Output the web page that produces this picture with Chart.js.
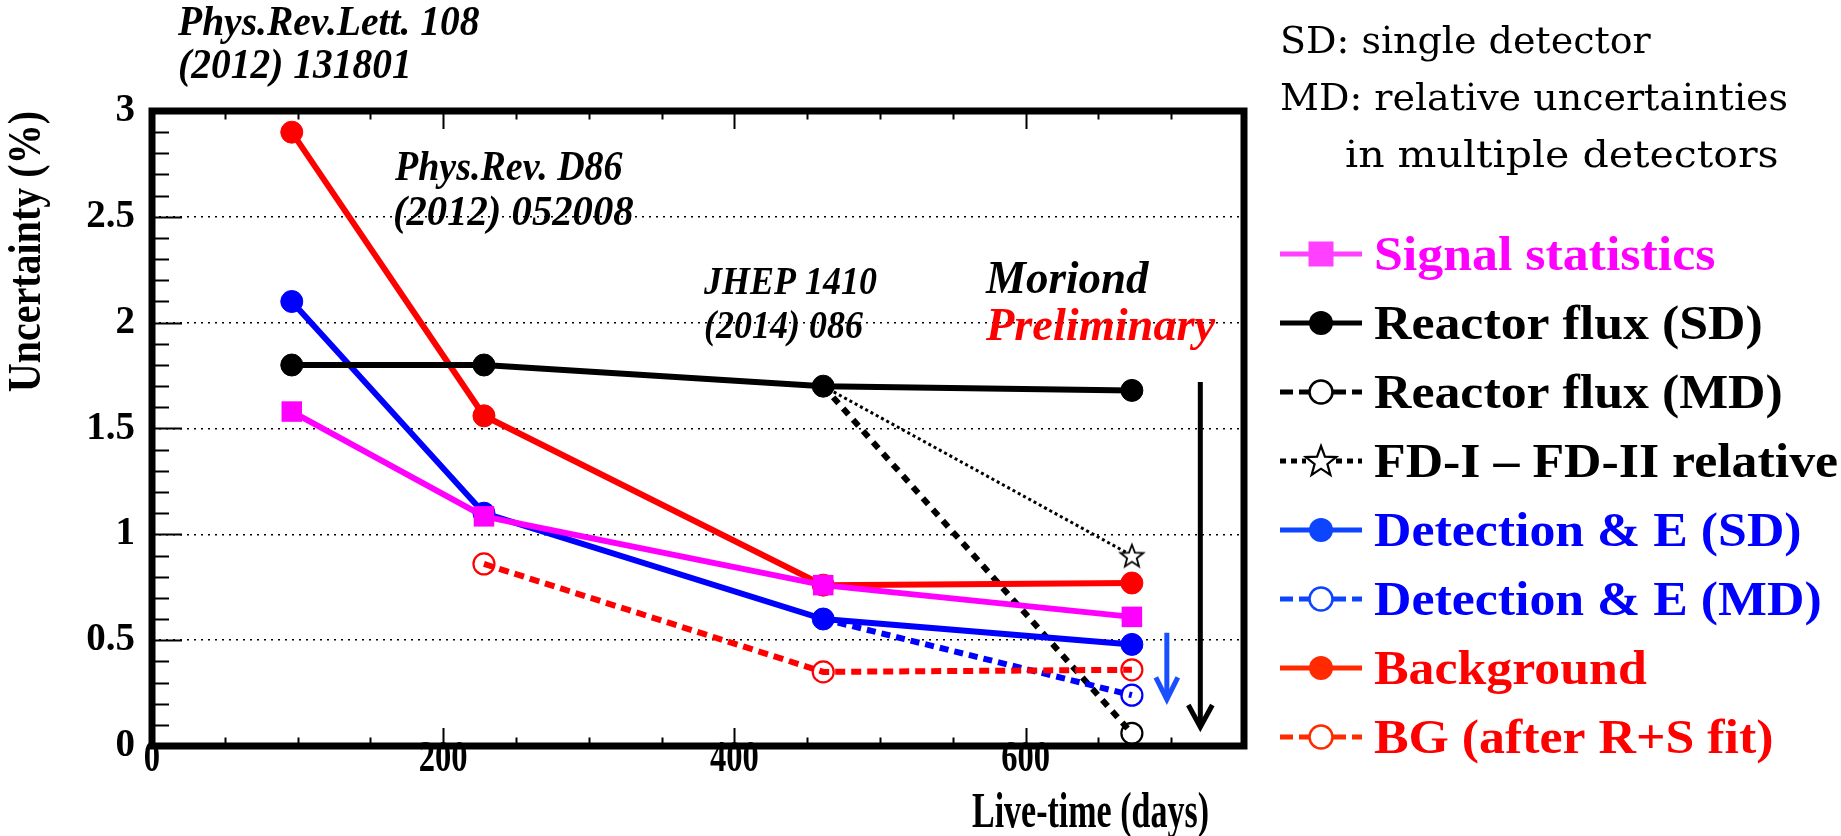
<!DOCTYPE html>
<html>
<head>
<meta charset="utf-8">
<title>Uncertainty vs live-time</title>
<script src="https://cdn.jsdelivr.net/npm/chart.js@4.4.1/dist/chart.umd.min.js"></script>
<style>
  html, body { margin: 0; padding: 0; background: #fff; }
  #wrap { width: 1841px; height: 836px; }
</style>
</head>
<body>
<div id="wrap"><canvas id="chart" width="1841" height="836"></canvas></div>
<script>
// -----------------------------
// DATA
// -----------------------------
const days = [96, 228, 461, 673];

const signalStat  = [1.58, 1.085, 0.76, 0.61];
const reactorSD   = [1.80, 1.80, 1.70, 1.68];
const reactorMD   = [null, null, 1.70, 0.06];
const fdRelative  = [null, null, 1.70, 0.90];
const detectionSD = [2.10, 1.10, 0.60, 0.48];
const detectionMD = [null, null, 0.60, 0.24];
const background  = [2.90, 1.56, 0.76, 0.77];
const bgAfterFit  = [null, 0.86, 0.35, 0.36];

const seriesNames = [
  "Signal statistics", "Reactor flux (SD)", "Reactor flux (MD)",
  "FD-I \u2013 FD-II relative", "Detection & E (SD)", "Detection & E (MD)",
  "Background", "BG (after R+S fit)"
];

const xTicks = [0, 200, 400, 600];
const xTickLabels = ["0", "200", "400", "600"];
const yTicks = [0, 0.5, 1, 1.5, 2, 2.5, 3];
const yTickLabels = ["0", "0.5", "1", "1.5", "2", "2.5", "3"];

// the two downward arrows on the right (days, from, to)
const arrowDays = [720, 697];
const arrowFrom = [1.72, 0.535];
const arrowTo   = [0.09, 0.22];

// -----------------------------
// HELPERS
// -----------------------------
const SERIF = "'Liberation Serif', 'Times New Roman', serif";

function pts(vals) {
  return days.map((d, i) => ({ x: d, y: vals[i] })).filter(p => p.y !== null);
}

function starPath(g, cx, cy, R, r) {
  g.beginPath();
  for (let i = 0; i < 10; i++) {
    const a = -Math.PI / 2 + i * Math.PI / 5;
    const rad = i % 2 ? r : R;
    g.lineTo(cx + rad * Math.cos(a), cy + rad * Math.sin(a));
  }
  g.closePath();
}

function makeStar(R, lw) {
  const c = document.createElement("canvas");
  const s = Math.ceil(R * 2 + lw * 2 + 4);
  c.width = s; c.height = s;
  const g = c.getContext("2d");
  starPath(g, s / 2, s / 2 + R * 0.1, R, R * 0.42);
  g.fillStyle = "#fff";
  g.fill();
  g.strokeStyle = "#000";
  g.lineWidth = lw;
  g.stroke();
  return c;
}
const starImg = makeStar(12, 1.8);

const NONE = "rgba(0,0,0,0)";

// text drawn squeezed/stretched horizontally, like the ROOT fonts
function fillScaled(ctx, text, x, y, sx, sy, align) {
  ctx.save();
  ctx.translate(x, y);
  ctx.scale(sx, sy);
  ctx.textAlign = align || "left";
  ctx.fillText(text, 0, 0);
  ctx.restore();
}

// -----------------------------
// DATASETS
// -----------------------------
const datasets = [
  { label: seriesNames[0], data: pts(signalStat), borderColor: "#ff00ff", backgroundColor: "#ff00ff",
    borderWidth: 6, pointStyle: "rect", pointRadius: 14.5, pointBorderWidth: 0, order: 0 },
  { label: seriesNames[1], data: pts(reactorSD), borderColor: "#000", backgroundColor: "#000",
    borderWidth: 6, pointStyle: "circle", pointRadius: 11, pointBorderWidth: 1, order: 1 },
  { label: seriesNames[2], data: pts(reactorMD), borderColor: "#000", backgroundColor: NONE,
    borderWidth: 6, borderDash: [8, 7], pointStyle: "circle", pointRadius: [0, 10.5], pointBorderWidth: 2.2, order: 6 },
  { label: seriesNames[3], data: pts(fdRelative), borderColor: "#000", backgroundColor: NONE,
    borderWidth: 3, borderDash: [3, 3], pointStyle: starImg, pointRadius: [0, 10], order: 7 },
  { label: seriesNames[4], data: pts(detectionSD), borderColor: "#0000ff", backgroundColor: "#0000ff",
    borderWidth: 6, pointStyle: "circle", pointRadius: 11, pointBorderWidth: 1, order: 2 },
  { label: seriesNames[5], data: pts(detectionMD), borderColor: "#0000ff", backgroundColor: NONE,
    borderWidth: 6, borderDash: [9, 6], pointStyle: "circle", pointRadius: [0, 10.5], pointBorderWidth: 2.2, order: 5 },
  { label: seriesNames[6], data: pts(background), borderColor: "#ff0000", backgroundColor: "#ff0000",
    borderWidth: 6, pointStyle: "circle", pointRadius: 11, pointBorderWidth: 1, order: 3 },
  { label: seriesNames[7], data: pts(bgAfterFit), borderColor: "#ff0000", backgroundColor: NONE,
    borderWidth: 6, borderDash: [10, 6], pointStyle: "circle", pointRadius: 10.5, pointBorderWidth: 2.2, order: 4 }
];

// legend look, one entry per series
const legendStyle = [
  { text: "#ff00ff", sym: "#ff40ff", marker: "square", dash: [] },
  { text: "#000000", sym: "#000000", marker: "dot", dash: [] },
  { text: "#000000", sym: "#000000", marker: "open", dash: [13, 6] },
  { text: "#000000", sym: "#000000", marker: "star", dash: [6, 5] },
  { text: "#0000ff", sym: "#0d45ff", marker: "dot", dash: [] },
  { text: "#0000ff", sym: "#0d45ff", marker: "open", dash: [13, 6] },
  { text: "#ff0000", sym: "#ff2a00", marker: "dot", dash: [] },
  { text: "#ff0000", sym: "#ff2a00", marker: "open", dash: [13, 6] }
];

// -----------------------------
// PLUGINS
// -----------------------------
const frameTicks = {
  id: "frameTicks",
  afterDatasetsDraw(chart) {
    const { ctx, chartArea: a, scales: { x, y } } = chart;
    ctx.save();
    ctx.strokeStyle = "#000";
    ctx.lineWidth = 2;
    ctx.beginPath();
    for (let v = 0; v <= 3.0001; v += 0.1) {
      const py = Math.round(y.getPixelForValue(v)) + 0.5;
      const major = Math.abs(v * 2 - Math.round(v * 2)) < 1e-6;
      ctx.moveTo(a.left, py);
      ctx.lineTo(a.left + (major ? 30 : 17), py);
    }
    for (let v = 0; v <= 750; v += 50) {
      const px = Math.round(x.getPixelForValue(v)) + 0.5;
      const major = v % 200 === 0;
      const len = major ? 18 : 8.5;
      ctx.moveTo(px, a.bottom);
      ctx.lineTo(px, a.bottom - len);
      ctx.moveTo(px, a.top);
      ctx.lineTo(px, a.top + len);
    }
    ctx.stroke();
    ctx.lineWidth = 7;
    ctx.strokeRect(a.left, a.top, a.right - a.left, a.bottom - a.top);

    // x tick labels (tall, narrow digits)
    ctx.fillStyle = "#000";
    ctx.font = "bold 44px " + SERIF;
    ctx.textBaseline = "alphabetic";
    xTicks.forEach((v, i) => {
      fillScaled(ctx, xTickLabels[i], x.getPixelForValue(v), 771, 0.74, 1, "center");
    });
    ctx.restore();
  }
};

const arrows = {
  id: "arrows",
  afterDatasetsDraw(chart) {
    const { ctx, scales: { x, y } } = chart;
    const colors = ["#000", "#1a4fff"];
    const widths = [5, 5];
    const heads = [[12, 22], [11, 22]];
    ctx.save();
    arrowDays.forEach((d, i) => {
      const px = x.getPixelForValue(d);
      const y0 = y.getPixelForValue(arrowFrom[i]);
      const y1 = y.getPixelForValue(arrowTo[i]);
      ctx.strokeStyle = colors[i];
      ctx.lineWidth = widths[i];
      ctx.beginPath();
      ctx.moveTo(px, y0);
      ctx.lineTo(px, y1 - 2);
      ctx.stroke();
      ctx.beginPath();
      ctx.moveTo(px - heads[i][0], y1 - heads[i][1]);
      ctx.lineTo(px, y1);
      ctx.lineTo(px + heads[i][0], y1 - heads[i][1]);
      ctx.stroke();
    });
    ctx.restore();
  }
};

const texts = {
  id: "texts",
  afterDraw(chart) {
    const ctx = chart.ctx;
    ctx.save();
    ctx.textBaseline = "alphabetic";
    ctx.textAlign = "left";

    // publication references
    ctx.fillStyle = "#000";
    ctx.font = "bold italic 38px " + SERIF;
    fillScaled(ctx, "Phys.Rev.Lett. 108", 178, 35, 1.04, 1.1);
    fillScaled(ctx, "(2012) 131801", 178, 78, 1.04, 1.1);
    fillScaled(ctx, "Phys.Rev. D86", 395, 180, 1.0, 1.1);
    fillScaled(ctx, "(2012) 052008", 393, 225, 1.07, 1.1);
    ctx.font = "bold italic 36px " + SERIF;
    fillScaled(ctx, "JHEP 1410", 704, 294, 1.0, 1.12);
    fillScaled(ctx, "(2014) 086", 704, 338, 1.0, 1.12);
    ctx.font = "bold italic 45px " + SERIF;
    fillScaled(ctx, "Moriond", 986, 293, 1.0, 1.05);
    ctx.fillStyle = "#ff0000";
    fillScaled(ctx, "Preliminary", 986, 340, 1.03, 1.05);

    // notes top right
    ctx.fillStyle = "#000";
    ctx.font = "38px 'DejaVu Serif', serif";
    ctx.fillText("SD: single detector", 1280, 53);
    ctx.fillText("MD: relative uncertainties", 1280, 110);
    fillScaled(ctx, "in multiple detectors", 1345, 167, 1.08, 1);

    // axis titles (ROOT style, condensed bold serif)
    ctx.font = "bold 46px " + SERIF;
    ctx.save();
    ctx.translate(40, 111);
    ctx.rotate(-Math.PI / 2);
    ctx.scale(0.87, 1);
    ctx.textAlign = "right";
    ctx.fillText("Uncertainty (%)", 0, 0);
    ctx.restore();

    ctx.font = "bold 50px " + SERIF;
    fillScaled(ctx, "Live-time (days)", 1209, 827, 0.68, 1, "right");

    // legend
    const x0 = 1280, x1 = 1362, cx = 1321;
    chart.data.datasets.forEach((ds, i) => {
      const st = legendStyle[i];
      const cy = 254 + i * 69;
      ctx.strokeStyle = st.sym;
      ctx.fillStyle = st.sym;
      ctx.lineWidth = 5;
      ctx.setLineDash(st.dash);
      ctx.beginPath();
      if (st.marker === "open" || st.marker === "star") {
        const gap = st.marker === "star" ? 15 : 12;
        ctx.moveTo(x0, cy); ctx.lineTo(cx - gap, cy);
        ctx.moveTo(cx + gap, cy); ctx.lineTo(x1, cy);
      } else {
        ctx.moveTo(x0, cy); ctx.lineTo(x1, cy);
      }
      ctx.stroke();
      ctx.setLineDash([]);
      if (st.marker === "square") {
        ctx.fillRect(cx - 12.5, cy - 12.5, 25, 25);
      } else if (st.marker === "dot") {
        ctx.beginPath(); ctx.arc(cx, cy, 12, 0, Math.PI * 2); ctx.fill();
      } else if (st.marker === "open") {
        ctx.lineWidth = 2.5;
        ctx.beginPath(); ctx.arc(cx, cy, 11.5, 0, Math.PI * 2); ctx.stroke();
      } else if (st.marker === "star") {
        ctx.lineWidth = 2.2;
        starPath(ctx, cx, cy + 1, 16, 6.7);
        ctx.stroke();
      }
      ctx.fillStyle = st.text;
      ctx.font = "bold 48px " + SERIF;
      fillScaled(ctx, ds.label, 1374, cy + 16, 1.08, 1);
    });
    ctx.restore();
  }
};

// -----------------------------
// CHART
// -----------------------------
const tickFont = { family: SERIF, size: 39, weight: "bold" };

new Chart(document.getElementById("chart"), {
  type: "line",
  data: { datasets },
  options: {
    responsive: false,
    animation: false,
    devicePixelRatio: 1,
    layout: { padding: { left: 0, top: 111, right: 597, bottom: 0 } },
    elements: { line: { tension: 0, fill: false } },
    plugins: { legend: { display: false }, tooltip: { enabled: false } },
    scales: {
      x: {
        type: "linear", min: 0, max: 750,
        afterBuildTicks: s => { s.ticks = xTicks.map(v => ({ value: v })); },
        afterFit: s => { s.height = 90; },
        grid: { display: false, drawTicks: false },
        border: { display: false },
        ticks: { display: false }
      },
      y: {
        type: "linear", min: 0, max: 3,
        afterBuildTicks: s => { s.ticks = yTicks.map(v => ({ value: v })); },
        afterFit: s => { s.width = 152; },
        grid: {
          drawTicks: false, lineWidth: 1.5,
          color: c => (c.tick && (c.tick.value === 0 || c.tick.value === 3)) ? NONE : "#000"
        },
        border: { display: false, dash: [2, 5] },
        ticks: { callback: (v, i) => yTickLabels[i], font: tickFont, color: "#000", padding: 17, autoSkip: false }
      }
    }
  },
  plugins: [frameTicks, arrows, texts]
});
</script>
</body>
</html>
